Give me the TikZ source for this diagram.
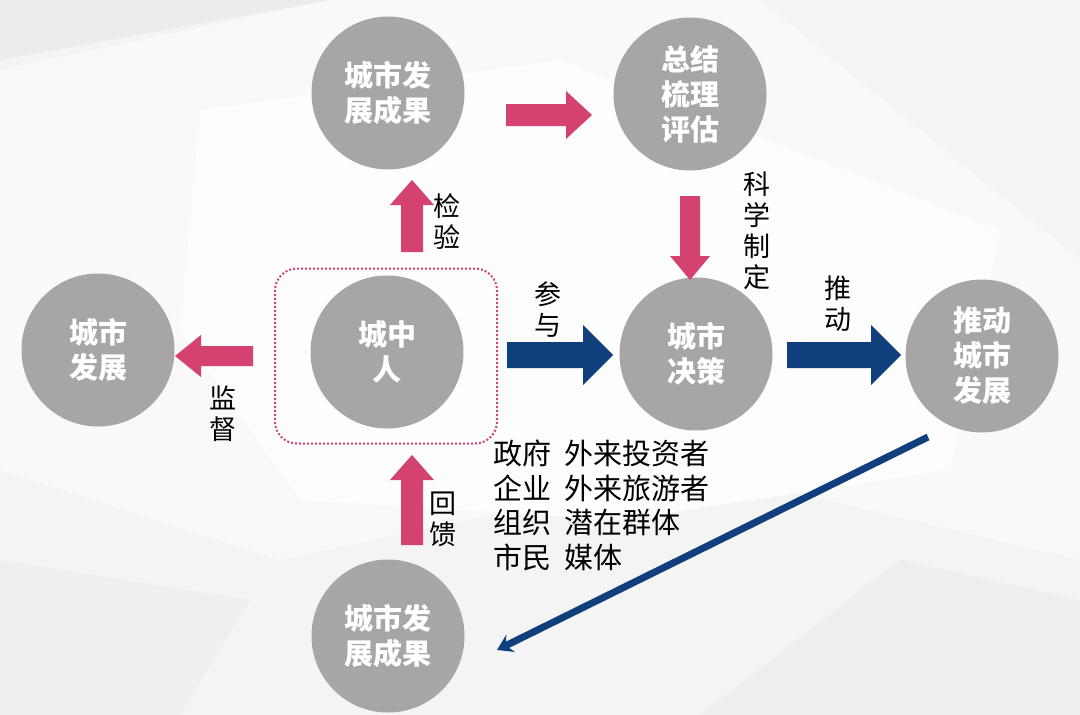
\documentclass[tikz,border=0pt]{standalone}
\usepackage{fontspec}
\newfontfamily\cjk{Noto Sans CJK SC}
\usetikzlibrary{arrows.meta}
\definecolor{cgray}{HTML}{A8A6A5}
\definecolor{cpink}{HTML}{D4426F}
\definecolor{cnavy}{HTML}{0F3F7C}
\definecolor{bgA}{HTML}{F4F4F4}
\definecolor{bgB}{HTML}{ECECEC}
\tikzset{
  bubble/.style={circle, fill=cgray, minimum size=153pt, inner sep=0pt, text=white, align=center,
    font=\cjk\bfseries\fontsize{29}{35}\selectfont},
  lbl/.style={align=center, text=black, inner sep=0pt, font=\cjk\fontsize{27}{31}\selectfont},
  dotbox/.style={draw=cpink, line width=2pt, dotted, rounded corners=22pt}
}
% block arrow: color, x, y (centre), angle, length, shaft, head width, head length
\newcommand\blockarr[8]{%
  \begin{scope}[shift={(#2,#3)}, rotate=#4]
    \fill[#1] (-#5/2,-#6/2) -- (#5/2-#8,-#6/2) -- (#5/2-#8,-#7/2) -- (#5/2,0)
      -- (#5/2-#8,#7/2) -- (#5/2-#8,#6/2) -- (-#5/2,#6/2) -- cycle;
  \end{scope}}
\begin{document}
\begin{tikzpicture}[x=1pt,y=-1pt]
% background
\fill[bgA] (0,0) rectangle (1080,715);
\useasboundingbox (0,0) rectangle (1080,715);
\fill[white!50!bgA] (0,70) -- (330,0) -- (760,0) -- (1080,260) -- (1080,560) -- (700,470) -- (280,560) -- (0,470) -- cycle;
\fill[white!85!bgA] (200,110) -- (560,60) -- (1000,230) -- (950,470) -- (620,520) -- (300,500) -- (180,330) -- cycle;
\fill[bgB] (0,0) -- (330,0) -- (0,60) -- cycle;
\fill[bgB!70!bgA] (700,715) -- (900,560) -- (1080,600) -- (1080,715) -- cycle;
\fill[bgB!60!bgA] (0,560) -- (250,600) -- (180,715) -- (0,715) -- cycle;

% bubbles
\node[bubble] (res1) at (388,93) {城市发\\展成果};
\node[bubble] (eval) at (690,94) {总结\\梳理\\评估};
\node[bubble] (ppl)  at (387,352) {城中\\人};
\node[bubble] (dec)  at (696,354) {城市\\决策};
\node[bubble] (dev)  at (98,350) {城市\\发展};
\node[bubble] (push) at (982,356) {推动\\城市\\发展};
\node[bubble] (res2) at (388,636) {城市发\\展成果};

% dotted box around ppl
\node[dotbox, minimum width=222pt, minimum height=175pt] (box) at (386,356) {};

% pink block arrows
\blockarr{cpink}{549}{115}{0}{86}{22}{48}{26}
\blockarr{cpink}{412}{216}{90}{72}{22}{44}{25}
\blockarr{cpink}{690}{238}{-90}{84}{20}{40}{24}
\blockarr{cpink}{214}{356}{180}{78}{20}{42}{26}
\blockarr{cpink}{412}{500}{90}{90}{22}{44}{25}

% navy block arrows
\blockarr{cnavy}{560}{355}{0}{106}{26}{60}{30}
\blockarr{cnavy}{844}{355}{0}{114}{26}{60}{30}

% labels
\node[lbl] (l1) at (447,222) {检\\验};
\node[lbl] (l2) at (757,231) {科\\学\\制\\定};
\node[lbl] (l3) at (548,310) {参\\与};
\node[lbl] (l4) at (838,304) {推\\动};
\node[lbl] (l5) at (223,414) {监\\督};
\node[lbl] (l6) at (443,519) {回\\馈};

% list of actors
\node[lbl, anchor=north west, align=left, font=\cjk\fontsize{29}{33.5}\selectfont] (lst) at (493,440)
  {\begin{tabular}{@{}l@{\hspace{13pt}}l@{}}
   政府 & 外来投资者\\
   企业 & 外来旅游者\\
   组织 & 潜在群体\\
   市民 & 媒体
   \end{tabular}};

% navy line arrow
\coordinate (s) at (928,437);
\coordinate (e) at (497,650);
\draw[cnavy, line width=7pt, -{Stealth[length=15pt,width=19pt,inset=5pt]}] (s) -- (e);
\end{tikzpicture}
\end{document}
